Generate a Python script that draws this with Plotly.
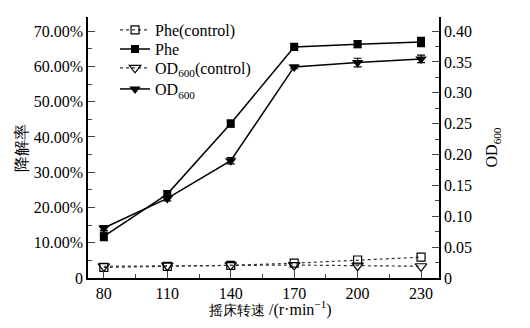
import plotly.graph_objects as go

speeds = [80, 110, 140, 170, 200, 230]
phe_control = [3.0, 3.3, 3.6, 4.2, 5.1, 5.9]          # %
phe = [11.8, 23.8, 43.8, 65.5, 66.3, 66.9]             # %
phe_err = [1.2, 1.0, 1.0, 1.0, 1.0, 1.3]
od_control = [0.019, 0.020, 0.021, 0.021, 0.020, 0.019]
od = [0.081, 0.129, 0.190, 0.342, 0.349, 0.355]
od_err = [0.004, 0.004, 0.005, 0.003, 0.007, 0.006]

left_ticks = [0, 10, 20, 30, 40, 50, 60, 70]
left_text = ["0", "10.00%", "20.00%", "30.00%", "40.00%", "50.00%", "60.00%", "70.00%"]
right_ticks = [0, 0.05, 0.10, 0.15, 0.20, 0.25, 0.30, 0.35, 0.40]
right_text = ["0", "0.05", "0.10", "0.15", "0.20", "0.25", "0.30", "0.35", "0.40"]

FONT = "Liberation Serif"

fig = go.Figure()
fig.add_trace(go.Scatter(
    x=speeds, y=phe_control, name="Phe(control)", mode="lines+markers",
    line=dict(color="#333", width=1.2, dash="dot"),
    marker=dict(symbol="square-open", size=8, color="black", line=dict(width=1.2)),
    yaxis="y", legend="legend"))
fig.add_trace(go.Scatter(
    x=speeds, y=phe, name="Phe", mode="lines+markers",
    line=dict(color="black", width=1.5),
    marker=dict(symbol="square", size=8, color="black"),
    error_y=dict(type="data", array=phe_err, color="black", thickness=1.2, width=4),
    yaxis="y", legend="legend2"))
fig.add_trace(go.Scatter(
    x=speeds, y=od_control, name="OD<sub>600</sub>(control)", mode="lines+markers",
    line=dict(color="#333", width=1.2, dash="dot"),
    marker=dict(symbol="triangle-down-open", size=10, color="black", line=dict(width=1.2)),
    yaxis="y2", legend="legend3"))
fig.add_trace(go.Scatter(
    x=speeds, y=od, name="OD<sub>600</sub>", mode="lines+markers",
    line=dict(color="black", width=1.5),
    marker=dict(symbol="triangle-down", size=10, color="black"),
    error_y=dict(type="data", array=od_err, color="black", thickness=1.2, width=4),
    yaxis="y2", legend="legend4"))

def leg(y):
    return dict(x=0.077, y=y, xanchor="left", yanchor="middle",
                bgcolor="rgba(0,0,0,0)", font=dict(size=16, family=FONT),
                itemwidth=30, borderwidth=0)

fig.update_layout(
    width=530, height=328,
    margin=dict(l=88, r=91, t=17, b=50),
    paper_bgcolor="white", plot_bgcolor="white",
    font=dict(family=FONT, size=16, color="black"),
    showlegend=True,
    legend=leg(0.950), legend2=leg(0.877), legend3=leg(0.805), legend4=leg(0.724),
    xaxis=dict(
        range=[72.5, 238.5], tickvals=speeds, ticks="inside", ticklen=7,
        tickwidth=1.2, showline=True, linecolor="black", linewidth=1.5,
        showgrid=False, zeroline=False, mirror=False, automargin=False,
        minor=dict(dtick=15, tick0=80, ticks="inside", ticklen=4, tickwidth=1.2),
        tickfont=dict(size=16, family=FONT)),
    yaxis=dict(
        range=[0, 74], tickvals=left_ticks, ticktext=left_text,
        ticks="inside", ticklen=7, tickwidth=1.2,
        showline=True, linecolor="black", linewidth=1.5,
        showgrid=False, zeroline=False, automargin=False,
        minor=dict(tickvals=[5, 15, 25, 35, 45, 55, 65], ticks="inside", ticklen=4, tickwidth=1.2),
        title=dict(text="降解率", standoff=2, font=dict(size=16, family=FONT)),
        tickfont=dict(size=16, family=FONT)),
    yaxis2=dict(
        range=[0, 74 * 0.4 / 70], overlaying="y", side="right",
        tickvals=right_ticks, ticktext=right_text,
        ticks="inside", ticklen=7, tickwidth=1.2,
        showline=True, linecolor="black", linewidth=1.5,
        showgrid=False, zeroline=False, automargin=False,
        minor=dict(tickvals=[0.025, 0.075, 0.125, 0.175, 0.225, 0.275, 0.325, 0.375],
                   ticks="inside", ticklen=4, tickwidth=1.2),
        title=dict(text="OD<sub>600</sub>", standoff=15, font=dict(size=16, family=FONT)),
        tickfont=dict(size=16, family=FONT)),
    annotations=[dict(
        text='<span style="font-size:13.5px">摇床转速</span> /(r·min<sup>−1</sup>)',
        xref="paper", yref="paper", x=0.521, y=0, xanchor="center", yanchor="middle",
        yshift=-30, showarrow=False, font=dict(size=16, family=FONT))],
)

fig.write_html("out.html", post_script="document.body.style.margin='0';",
               config={"displayModeBar": False})
